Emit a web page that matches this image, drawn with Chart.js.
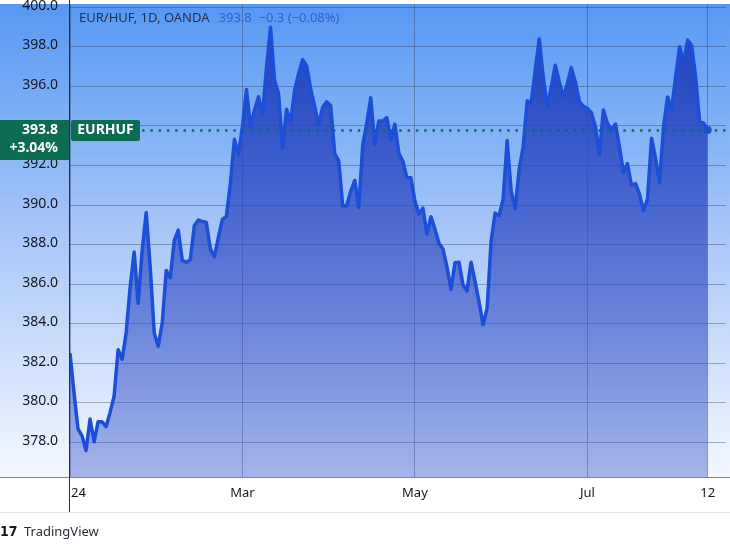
<!DOCTYPE html>
<html><head><meta charset="utf-8">
<script src="https://cdn.jsdelivr.net/npm/chart.js@4"></script>
<style>html,body{margin:0;padding:0;background:#fff;overflow:hidden}canvas{display:block}</style>
</head><body>
<canvas id="c" width="730" height="544"></canvas>
<script>
// EUR/HUF daily closes, 2 Jan 2024 - 12 Aug 2024 (trading days)
const prices = [
382.5,380.5,378.67,378.32,377.58,379.17,378.02,379.03,379.03,378.79,
379.51,380.34,382.68,382.2,383.53,385.86,387.62,385.03,387.7,389.62,
386.86,383.53,382.86,384.03,386.69,386.32,388.2,388.73,387.2,387.11,
387.23,388.95,389.24,389.17,389.12,387.78,387.37,388.37,389.27,389.42,
391.12,393.33,392.55,393.97,395.84,393.97,394.81,395.48,394.56,396.98,
398.99,396.31,395.64,392.88,394.85,394.17,395.81,396.64,397.35,397.04,
395.89,395.0,394.05,394.94,395.22,395.02,392.62,392.24,389.96,389.96,
390.7,391.24,389.87,393.05,394.14,395.42,393.05,394.25,394.25,394.42,
393.3,394.09,392.62,392.21,391.38,391.38,390.2,389.54,389.84,388.53,
389.41,388.78,388.07,387.78,386.86,385.73,387.08,387.11,385.95,385.65,
387.11,386.12,385.09,383.95,384.77,388.15,389.59,389.46,390.3,393.26,
390.7,389.82,391.8,392.96,395.27,395.17,396.82,398.4,396.48,394.98,
395.97,397.07,396.23,395.47,396.14,396.95,396.23,395.24,395.0,394.89,
394.67,393.97,392.55,394.81,394.14,393.8,394.1,392.96,391.63,392.1,
391.0,391.09,390.55,389.71,390.3,393.38,392.38,391.12,393.97,395.47,
394.81,396.48,398.01,397.23,398.35,398.07,396.48,394.22,394.14,393.8
];
const xTickIndex  = [0, 43, 86, 129, 159];
const xTickLabels = ["24", "Mar", "May", "Jul", "12"];
const yTickValues = [378,380,382,384,386,388,390,392,394,396,398,400];
const symbolName  = "EURHUF";
const headerTitle = "EUR/HUF, 1D, OANDA";
const headerQuote = "393.8  \u22120.3 (\u22120.08%)";
const lastPrice   = 393.8;
const periodChange = "+3.04%";

const LINE = '#1c4ed8';
const FONT = '"Noto Sans", "Open Sans", sans-serif';

const deco = {
  id: 'deco',
  beforeDraw(chart) {
    const {ctx, chartArea: a, width, height} = chart;
    ctx.save();
    ctx.fillStyle = '#ffffff';
    ctx.fillRect(0, 0, width, height);
    const g = ctx.createLinearGradient(0, a.top, 0, a.bottom);
    g.addColorStop(0, '#5798f3');
    g.addColorStop(0.5, '#aac8f8');
    g.addColorStop(1, '#f3f8ff');
    ctx.fillStyle = g;
    ctx.fillRect(0, a.top, width, a.bottom - a.top);
    ctx.restore();
  },
  beforeDatasetsDraw(chart) {
    const {ctx} = chart;
    ctx.save();
    ctx.font = '13px ' + FONT;
    ctx.textBaseline = 'middle';
    ctx.textAlign = 'left';
    ctx.fillStyle = '#23304d';
    ctx.fillText(headerTitle, 79, 18);
    const w = ctx.measureText(headerTitle).width;
    ctx.fillStyle = '#3560cc';
    ctx.fillText(headerQuote, 79 + w + 9, 18);
    ctx.restore();
  },
  afterDraw(chart) {
    const {ctx, chartArea: a, width} = chart;
    const ys = chart.scales.y, xs = chart.scales.x;
    const py = Math.round(ys.getPixelForValue(lastPrice)) + 0.5;
    const boxTop = py - 10.5, boxH = 40;
    ctx.save();
    // axis lines
    ctx.strokeStyle = '#80858f'; ctx.lineWidth = 1;
    ctx.beginPath(); ctx.moveTo(0, a.bottom + 0.5); ctx.lineTo(width, a.bottom + 0.5); ctx.stroke();
    ctx.strokeStyle = '#e0e3eb';
    ctx.beginPath(); ctx.moveTo(0, 512.5); ctx.lineTo(width, 512.5); ctx.stroke();
    ctx.strokeStyle = '#2a2e39';
    ctx.beginPath(); ctx.moveTo(a.left - 0.5, 0); ctx.lineTo(a.left - 0.5, 512); ctx.stroke();

    // y labels (hidden where the price label sits)
    ctx.font = '14px ' + FONT;
    ctx.fillStyle = '#131722';
    ctx.textAlign = 'right'; ctx.textBaseline = 'middle';
    yTickValues.forEach(v => {
      const y = ys.getPixelForValue(v) - 1.5;
      if (y > boxTop - 6 && y < boxTop + 20) return;
      ctx.fillText(v.toFixed(1), 58, y);
    });

    // x labels
    ctx.font = '13px ' + FONT;
    xTickIndex.forEach((idx, k) => {
      const px = xs.getPixelForValue(idx);
      ctx.textAlign = k === 0 ? 'left' : 'center';
      ctx.fillText(xTickLabels[k], k === 0 ? px + 1 : px, 493);
    });

    // price line
    ctx.strokeStyle = '#0b6f55';
    ctx.lineWidth = 2.5;
    ctx.setLineDash([2.5, 5.8]);
    ctx.beginPath(); ctx.moveTo(142, py); ctx.lineTo(width, py); ctx.stroke();
    ctx.setLineDash([]);

    // price label on axis
    ctx.fillStyle = '#0c6b52';
    ctx.fillRect(0, boxTop, a.left - 1, boxH);
    ctx.fillStyle = '#ffffff';
    ctx.font = 'bold 14px ' + FONT;
    ctx.textAlign = 'right';
    ctx.fillText(lastPrice.toFixed(1), 58, py);
    ctx.fillText(periodChange, 58, py + 18);

    // symbol label
    ctx.fillStyle = '#0c6b52';
    const bx = a.left + 1, bw = 69, bh = 21;
    ctx.beginPath();
    ctx.roundRect(bx, boxTop, bw, bh, 2);
    ctx.fill();
    ctx.fillStyle = '#ffffff';
    ctx.textAlign = 'center';
    ctx.fillText(symbolName, bx + bw / 2, py - 0.5);

    // TradingView logo
    ctx.fillStyle = '#131722';
    ctx.font = 'bold 14px "DejaVu Sans Condensed", "DejaVu Sans", sans-serif';
    ctx.textAlign = 'left';
    ctx.fillText('17', 0, 532);
    ctx.font = '13px ' + FONT;
    ctx.fillStyle = '#2a2e39';
    ctx.fillText('TradingView', 24, 532);
    ctx.restore();
  }
};

new Chart(document.getElementById('c'), {
  type: 'line',
  data: {
    datasets: [{
      data: prices.map((v, i) => ({x: i, y: v})),
      borderColor: LINE,
      borderWidth: 3.5,
      borderJoinStyle: 'round',
      tension: 0,
      fill: 'start',
      backgroundColor: (ctx) => {
        const {chart} = ctx;
        const a = chart.chartArea;
        if (!a) return 'rgba(40,70,200,0.6)';
        const g = chart.ctx.createLinearGradient(0, a.top, 0, a.bottom);
        g.addColorStop(0, 'rgba(30,58,185,0.95)');
        g.addColorStop(1, 'rgba(50,80,200,0.40)');
        return g;
      },
      pointRadius: (ctx) => ctx.dataIndex === prices.length - 1 ? 4 : 0,
      pointBackgroundColor: LINE,
      pointBorderWidth: 0,
      pointHoverRadius: 0
    }]
  },
  options: {
    responsive: false,
    animation: false,
    devicePixelRatio: 1,
    layout: {padding: 0},
    plugins: {legend: {display: false}, tooltip: {enabled: false}},
    events: [],
    scales: {
      x: {
        type: 'linear',
        min: 0,
        max: 163.57,
        z: 1,
        afterBuildTicks: (s) => { s.ticks = xTickIndex.map(v => ({value: v})); },
        afterFit: (s) => { s.height = 67; },
        ticks: {display: false},
        grid: {color: 'rgba(45,55,85,0.38)', drawTicks: false},
        border: {display: false}
      },
      y: {
        position: 'left',
        min: 376.24,
        max: 400.17,
        z: 1,
        afterBuildTicks: (s) => { s.ticks = yTickValues.map(v => ({value: v})); },
        afterFit: (s) => { s.width = 70; },
        ticks: {display: false},
        grid: {color: 'rgba(45,55,85,0.38)', drawTicks: false},
        border: {display: false}
      }
    }
  },
  plugins: [deco]
});
</script>
</body></html>
